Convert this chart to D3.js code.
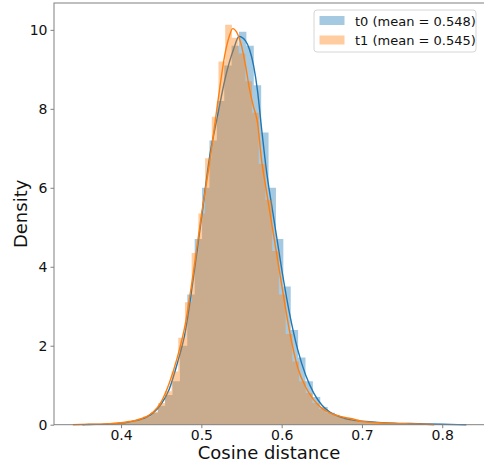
<!DOCTYPE html>
<html><head><meta charset="utf-8">
<script src="https://cdn.jsdelivr.net/npm/d3@7/dist/d3.min.js"></script>
<style>html,body{margin:0;padding:0;background:#fff;} svg{display:block;font-family:"DejaVu Sans",sans-serif;}</style>
</head><body>
<script>
// ---- data ----
const seriesNames = ["t0 (mean = 0.548)", "t1 (mean = 0.545)"];
const t0BinStart = 0.3537, t0BinWidth = 0.0092;
const t0Hist = [0.01,0.01,0.02,0.02,0.03,0.05,0.08,0.13,0.2,0.3,
  0.48,0.75,1.1,2.0,3.3,4.7,6.0,7.2,8.2,9.1,
  9.6,9.95,9.6,8.6,7.4,6.0,4.7,3.5,2.4,1.7,
  1.1,0.7,0.45,0.3,0.22,0.15,0.11,0.09,0.07,0.06,
  0.05,0.04,0.035,0.03,0.025,0.02,0.015,0.01,0.01,0.005];
const t1BinStart = 0.35435, t1BinWidth = 0.00835;
const t1Hist = [0.01,0.01,0.02,0.02,0.03,0.05,0.07,0.1,0.15,0.22,
  0.33,0.55,0.85,1.35,2.2,3.1,4.35,5.35,6.75,7.8,
  9.2,10.13,9.8,9.4,8.7,7.9,6.6,5.7,4.4,3.3,
  2.3,1.6,1.1,0.8,0.55,0.4,0.3,0.25,0.2,0.17,
  0.14,0.09,0.07,0.05,0.04,0.03,0.02,0.02,0.01,0.01];
const t0KdeX = [0.352,0.36,0.38,0.40,0.41,0.42,0.43,0.44,0.45,0.46,0.47,0.48,0.49,0.50,0.51,0.52,0.53,0.54,0.547,0.555,0.56,0.565,0.57,0.575,0.58,0.59,0.60,0.61,0.62,0.63,0.64,0.65,0.66,0.67,0.68,0.69,0.70,0.72,0.74,0.76,0.78,0.80,0.83];
const t0KdeY = [0,0.005,0.015,0.04,0.07,0.11,0.17,0.3,0.52,0.9,1.55,2.35,3.7,5.2,6.75,7.8,8.8,9.5,9.83,9.72,9.5,9.1,8.45,7.5,6.6,5.25,3.95,2.8,1.9,1.25,0.8,0.5,0.32,0.22,0.15,0.11,0.09,0.06,0.04,0.03,0.02,0.01,0];
const t1KdeX = [0.34,0.36,0.38,0.40,0.41,0.42,0.43,0.44,0.45,0.46,0.47,0.48,0.49,0.50,0.51,0.52,0.53,0.535,0.539,0.545,0.55,0.555,0.56,0.565,0.57,0.575,0.58,0.59,0.60,0.61,0.62,0.63,0.64,0.65,0.66,0.67,0.68,0.69,0.70,0.72,0.74,0.76,0.78,0.79];
const t1KdeY = [0,0.01,0.02,0.05,0.08,0.12,0.19,0.32,0.58,1.05,1.7,2.55,3.85,5.3,6.6,8.1,9.45,9.85,10.03,9.9,9.6,9.1,8.5,8.05,7.65,6.7,6.05,4.8,3.55,2.35,1.45,0.95,0.63,0.42,0.3,0.23,0.18,0.14,0.08,0.05,0.03,0.02,0.01,0];
const xTicks = [0.4,0.5,0.6,0.7,0.8];
const yTicks = [0,2,4,6,8,10];
const colors = ["#1f77b4","#ff7f0e"];

// ---- chart ----
const W = 484, H = 463;
const m = {left:54, right:0, top:3, bottom:38.3};
const svg = d3.select("body").append("svg").attr("width",W).attr("height",H);
const x = d3.scaleLinear().domain([0.3165,0.852]).range([m.left, W]);
const y = d3.scaleLinear().domain([0,10.68]).range([H-m.bottom, m.top]);

const g = svg.append("g");
function hist(start,width,vals,color){
  // one step-shaped path so that adjacent bars have no seams
  const p = d3.path();
  p.moveTo(x(start), y(0));
  vals.forEach((d,i)=>{
    p.lineTo(x(start+i*width), y(d));
    p.lineTo(x(start+(i+1)*width), y(d));
  });
  p.lineTo(x(start+vals.length*width), y(0));
  p.closePath();
  g.append("path").attr("d",p.toString()).attr("fill",color).attr("fill-opacity",0.4);
}
function kde(xs,ys,color){
  g.append("path").datum(xs.map((v,i)=>[v,ys[i]]))
    .attr("fill","none").attr("stroke",color).attr("stroke-width",1.4)
    .attr("d",d3.line().x(d=>x(d[0])).y(d=>y(d[1])).curve(d3.curveMonotoneX));
}
hist(t0BinStart,t0BinWidth,t0Hist,colors[0]);
kde(t0KdeX,t0KdeY,colors[0]);
hist(t1BinStart,t1BinWidth,t1Hist,colors[1]);
kde(t1KdeX,t1KdeY,colors[1]);

// spines
const spine = "#808080";
svg.append("rect").attr("x",m.left).attr("y",m.top).attr("width",W-m.left+1).attr("height",y(0)-m.top)
  .attr("fill","none").attr("stroke",spine).attr("stroke-width",1);

// axes
const xa = svg.append("g").attr("transform",`translate(0,${y(0)})`)
  .call(d3.axisBottom(x).tickValues(xTicks).tickSize(3.5).tickPadding(2).tickFormat(d3.format(".1f")));
const ya = svg.append("g").attr("transform",`translate(${m.left},0)`)
  .call(d3.axisLeft(y).tickValues(yTicks).tickSize(3.5).tickPadding(3).tickFormat(d3.format("d")));
[xa,ya].forEach(a=>{
  a.select(".domain").remove();
  a.selectAll(".tick line").attr("stroke",spine);
  a.selectAll(".tick text").attr("fill","#111").style("font-size","14px").style("font-family","DejaVu Sans");
});

svg.append("text").attr("x",(m.left+W)/2).attr("y",459).attr("text-anchor","middle")
  .style("font-size","18px").attr("fill","#111").text("Cosine distance");
svg.append("text").attr("transform",`translate(27,${(m.top+y(0))/2}) rotate(-90)`).attr("text-anchor","middle")
  .style("font-size","18px").attr("fill","#111").text("Density");

// legend
const lg = svg.append("g");
lg.append("rect").attr("x",314).attr("y",10).attr("width",162).attr("height",42).attr("rx",3)
  .attr("fill","#fff").attr("fill-opacity",0.8).attr("stroke","#d6d6d6");
seriesNames.forEach((n,i)=>{
  lg.append("rect").attr("x",319.5).attr("y",16+i*19.5).attr("width",25).attr("height",9)
    .attr("fill",colors[i]).attr("fill-opacity",0.4);
  lg.append("text").attr("x",355).attr("y",25.5+i*19.5).style("font-size","13px").attr("fill","#111").text(n);
});
</script>
</body></html>
